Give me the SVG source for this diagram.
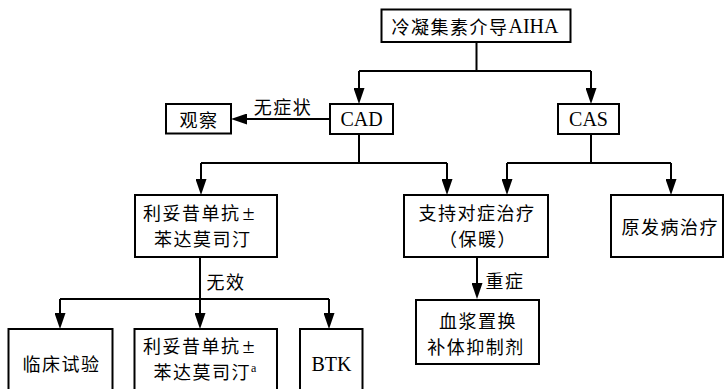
<svg xmlns="http://www.w3.org/2000/svg" width="725" height="389" viewBox="0 0 725 389">
<style>
.box{fill:#fff;stroke:#000;stroke-width:2}
.t{font-family:"Noto Sans CJK SC",serif;font-size:18px;letter-spacing:1.5px;fill:#000;dominant-baseline:central}
.c{text-anchor:middle}
.lat{font-family:"Liberation Serif",serif;font-size:20px;letter-spacing:0}
.pm{font-family:"Liberation Serif",serif;font-size:22px;letter-spacing:0}
.ln{fill:none;stroke:#000;stroke-width:2}
.sup{font-family:"Liberation Serif",serif;font-size:12px;letter-spacing:0;dominant-baseline:auto}
</style>
<defs>
<marker id="ah" markerUnits="userSpaceOnUse" markerWidth="16" markerHeight="11" refX="12" refY="5.5" orient="auto">
<path d="M0,0 L16,5.5 L0,11 z" fill="#000"/>
</marker>
</defs>
<g id="connectors">
<path class="ln" d="M476.5,42 V71 M359,71 H591"/>
<path class="ln" d="M359,71 V100" marker-end="url(#ah)"/>
<path class="ln" d="M591,71 V100" marker-end="url(#ah)"/>
<path class="ln" d="M330,119 H235" marker-end="url(#ah)"/>
<path class="ln" d="M359,134 V163 M201,163 H447"/>
<path class="ln" d="M201,163 V191" marker-end="url(#ah)"/>
<path class="ln" d="M447,163 V191" marker-end="url(#ah)"/>
<path class="ln" d="M591,134 V163 M507,163 H671"/>
<path class="ln" d="M507,163 V191" marker-end="url(#ah)"/>
<path class="ln" d="M671,163 V191" marker-end="url(#ah)"/>
<path class="ln" d="M200,257 V299 M60,299 H329"/>
<path class="ln" d="M60,299 V325" marker-end="url(#ah)"/>
<path class="ln" d="M200,299 V325" marker-end="url(#ah)"/>
<path class="ln" d="M329,299 V325" marker-end="url(#ah)"/>
<path class="ln" d="M477,257 V295" marker-end="url(#ah)"/>
<text class="t c" x="283" y="106">无症状</text>
<text class="t c" x="226" y="281">无效</text>
<text class="t c" x="505" y="280">重症</text>
</g>
<g id="n-aiha">
<rect class="box" x="381.5" y="9.5" width="189" height="32.5"/>
<text class="t" x="391.5" y="26">冷凝集素介导<tspan class="lat">AIHA</tspan></text>
</g>
<g id="n-observe">
<rect class="box" x="166" y="104" width="65" height="29.5"/>
<text class="t c" x="199" y="119">观察</text>
</g>
<g id="n-cad">
<rect class="box" x="330" y="104" width="63" height="30"/>
<text class="t c lat" x="361.5" y="119">CAD</text>
</g>
<g id="n-cas">
<rect class="box" x="558" y="104" width="61" height="30"/>
<text class="t c lat" x="588.5" y="119">CAS</text>
</g>
<g id="n-ritux1">
<rect class="box" x="135" y="195" width="142" height="62"/>
<text class="t" x="143" y="211.5">利妥昔单抗<tspan class="pm" dx="2">±</tspan></text>
<text class="t" x="154" y="237.5">苯达莫司汀</text>
</g>
<g id="n-support">
<rect class="box" x="404" y="195" width="144" height="62"/>
<text class="t c" x="477" y="211.5">支持对症治疗</text>
<text class="t c" x="478" y="237.5">（保暖）</text>
</g>
<g id="n-primary">
<rect class="box" x="611" y="195" width="112" height="62"/>
<text class="t" x="621.5" y="226">原发病治疗</text>
</g>
<g id="n-plasma">
<rect class="box" x="416" y="300" width="123" height="64"/>
<text class="t c" x="478" y="320">血浆置换</text>
<text class="t c" x="476" y="346">补体抑制剂</text>
</g>
<g id="n-trial">
<rect class="box" x="8.5" y="329" width="104" height="64"/>
<text class="t c" x="61.5" y="363">临床试验</text>
</g>
<g id="n-ritux2">
<rect class="box" x="134.5" y="329" width="142.5" height="64"/>
<text class="t" x="143" y="345">利妥昔单抗<tspan class="pm" dx="2">±</tspan></text>
<text class="t" x="153.5" y="371">苯达莫司汀<tspan class="sup" dx="0" dy="-3">a</tspan></text>
</g>
<g id="n-btk">
<rect class="box" x="300" y="329" width="62.5" height="64"/>
<text class="t c lat" x="331.5" y="364">BTK</text>
</g>
</svg>
